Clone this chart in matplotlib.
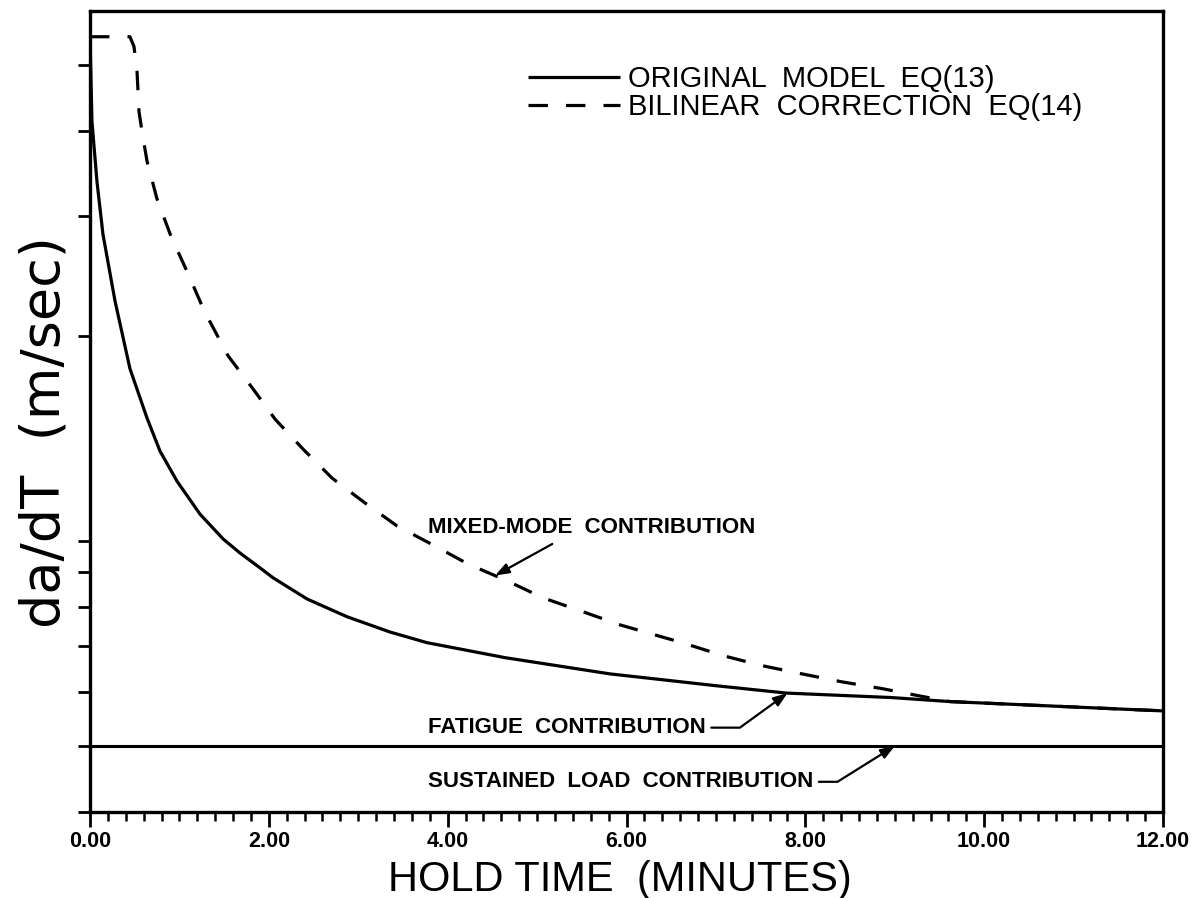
import numpy as np
import matplotlib
matplotlib.use("Agg")
import matplotlib.pyplot as plt
from matplotlib.ticker import FixedLocator, MultipleLocator, NullFormatter, NullLocator

# Hold time (minutes) versus crack growth rate da/dT (log axis)
orig_time = [0.0, 0.022, 0.078, 0.145, 0.280, 0.447, 0.638, 0.783, 0.973, 1.230,
             1.488, 1.678, 1.902, 2.047, 2.427, 2.875, 3.356, 3.770, 4.139, 4.642,
             5.817, 7.002, 7.785, 8.960, 9.620, 12.0]
orig_rate = [5.50, 4.13, 3.37, 2.82, 2.25, 1.79, 1.515, 1.355, 1.224, 1.095,
             1.007, 0.960, 0.913, 0.883, 0.822, 0.774, 0.735, 0.709, 0.694, 0.674,
             0.638, 0.613, 0.598, 0.589, 0.581, 0.563]

bilin_time = [0.0, 0.447, 0.492, 0.526, 0.548, 0.582, 0.638, 0.749, 0.906, 1.096,
              1.275, 1.544, 1.812, 2.069, 2.383, 2.707, 3.076, 3.434, 3.859, 4.228,
              4.664, 5.067, 5.481, 5.928, 6.622, 7.092, 7.517, 7.964, 8.412, 8.859,
              9.284, 9.620, 12.0]
bilin_rate = [5.50, 5.50, 5.32, 4.89, 4.27, 3.99, 3.61, 3.18, 2.80, 2.47,
              2.18, 1.87, 1.68, 1.51, 1.364, 1.237, 1.137, 1.052, 0.983, 0.925,
              0.874, 0.825, 0.790, 0.753, 0.709, 0.678, 0.656, 0.638, 0.621, 0.607,
              0.592, 0.581, 0.563]

sustained_time = [0.0, 12.0]
sustained_rate = [0.5, 0.5]

legend_labels = ["ORIGINAL  MODEL  EQ(13)", "BILINEAR  CORRECTION  EQ(14)"]
x_major = [0, 2, 4, 6, 8, 10, 12]
x_tick_labels = ["0.00", "2.00", "4.00", "6.00", "8.00", "10.00", "12.00"]
y_ticks = [0.4, 0.5, 0.6, 0.7, 0.8, 0.9, 1, 2, 3, 4, 5]

# hold times where the callouts point
mixed_at = 4.53
fatigue_at = 7.8
sustained_at = 9.0

plt.rcParams["font.family"] = ["Liberation Sans", "DejaVu Sans"]
plt.rcParams["lines.scale_dashes"] = False

fig = plt.figure(figsize=(11.96, 8.98), dpi=100)
ax = fig.add_axes([90 / 1196, 86 / 898, 1073 / 1196, 801 / 898])

line_orig, = ax.plot(orig_time, orig_rate, color="black", lw=2.3,
                     solid_capstyle="butt")
line_bilin, = ax.plot(bilin_time, bilin_rate, color="black", lw=2.3,
                      linestyle=(0, (14, 13)), dash_capstyle="butt")
ax.plot(sustained_time, sustained_rate, color="black", lw=2.2)

ax.set_yscale("log")
ax.set_xlim(0, 12)
ax.set_ylim(0.4, 6)

ax.yaxis.set_major_locator(FixedLocator(y_ticks))
ax.yaxis.set_major_formatter(NullFormatter())
ax.yaxis.set_minor_locator(NullLocator())
ax.yaxis.set_minor_formatter(NullFormatter())
ax.tick_params(axis="y", which="major", direction="out", length=9, width=2)

ax.set_xticks(x_major, x_tick_labels, fontsize=15.5, fontweight="bold")
ax.xaxis.set_minor_locator(MultipleLocator(0.2))
ax.tick_params(axis="x", which="major", direction="out", length=11, width=2, pad=3)
ax.tick_params(axis="x", which="minor", direction="out", length=6.5, width=1.8)

for sp in ax.spines.values():
    sp.set_linewidth(2.4)

ax.set_xlabel("HOLD TIME  (MINUTES)", fontsize=30)
ax.xaxis.set_label_coords(0.494, -0.060)
ax.set_ylabel("da/dT  (m/sec)", fontsize=39, family="DejaVu Sans")
ax.yaxis.set_label_coords(-0.018, 0.474)

ax.legend([line_orig, line_bilin], legend_labels, loc="upper left",
          bbox_to_anchor=(0.408, 0.9326), frameon=False, fontsize=21,
          handlelength=3.15, handletextpad=0.28, labelspacing=0.0,
          borderpad=0, borderaxespad=0)

arrow = dict(arrowstyle="-|>,head_length=0.6,head_width=0.22", color="black",
             lw=1.6, shrinkA=0, shrinkB=0, mutation_scale=14)
label_font = dict(fontsize=16, fontweight="bold")

# mixed-mode callout on the bilinear curve
ax.text(3.78, 1.045, "MIXED-MODE  CONTRIBUTION", ha="left", va="center", **label_font)
ax.annotate("", xy=(mixed_at, np.interp(mixed_at, bilin_time, bilin_rate)),
            xytext=(5.17, 0.99), arrowprops=arrow)

# fatigue callout on the original curve
ax.annotate("FATIGUE  CONTRIBUTION",
            xy=(fatigue_at, np.interp(fatigue_at, orig_time, orig_rate)),
            xytext=(3.78, 0.532), ha="left", va="center", **label_font,
            arrowprops=dict(arrow, connectionstyle="angle,angleA=0,angleB=36,rad=0",
                            shrinkA=2))

# sustained load callout
ax.annotate("SUSTAINED  LOAD  CONTRIBUTION",
            xy=(sustained_at, np.interp(sustained_at, sustained_time, sustained_rate)),
            xytext=(3.78, 0.443), ha="left", va="center", **label_font,
            arrowprops=dict(arrow, connectionstyle="angle,angleA=0,angleB=32,rad=0",
                            shrinkA=2))

fig.savefig("out.png", dpi=100)
